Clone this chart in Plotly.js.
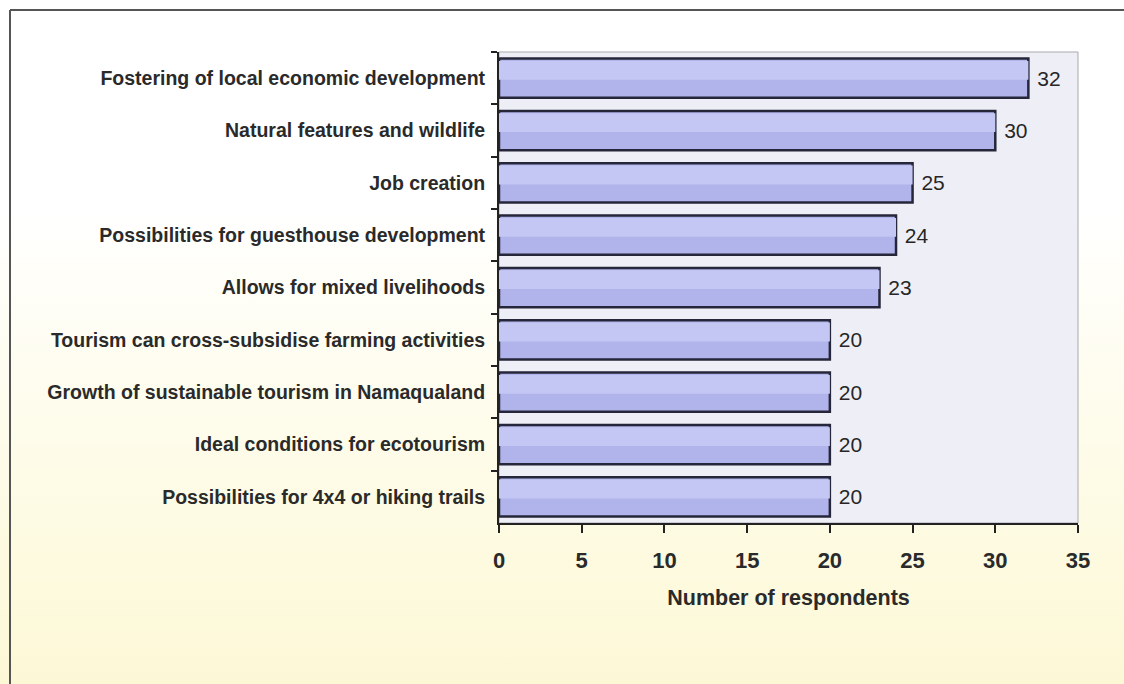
<!DOCTYPE html>
<html>
<head>
<meta charset="utf-8">
<script src="https://cdn.plot.ly/plotly-3.0.1.min.js"></script>
<style>
  html, body { margin: 0; padding: 0; }
  body {
    width: 1124px; height: 684px; overflow: hidden;
    background: linear-gradient(to bottom, #ffffff 0%, #ffffff 30%, #fefceb 62%, #fcf8d6 100%);
  }
  #chart { width: 1124px; height: 684px; }
</style>
</head>
<body>
<div id="chart"></div>
<script>
// Data (top to bottom as shown)
const categories = [
  "Fostering of local economic development",
  "Natural features and wildlife",
  "Job creation",
  "Possibilities for guesthouse development",
  "Allows for mixed livelihoods",
  "Tourism can cross-subsidise farming activities",
  "Growth of sustainable tourism in Namaqualand",
  "Ideal conditions for ecotourism",
  "Possibilities for 4x4 or hiking trails"
];
const respondents = [32, 30, 25, 24, 23, 20, 20, 20, 20];
const xTicks = [0, 5, 10, 15, 20, 25, 30, 35];
const xTitle = "Number of respondents";

const L = 499, R = 1078, T = 52, B = 523;
const W = 1124, H = 684;
const px = v => (v - L) / (R - L);
const py = v => (B - v) / (B - T);
const FONT = 'Liberation Sans, Arial, sans-serif';

const bars = {
  type: 'bar',
  orientation: 'h',
  y: categories,
  x: respondents,
  width: 0.75,
  texttemplate: '\u00a0%{x}',
  textposition: 'outside',
  cliponaxis: false,
  textfont: { family: FONT, size: 21, color: '#262626' },
  marker: { color: '#b0b4eb', line: { color: '#26263a', width: 2.5 } },
  hoverinfo: 'skip'
};

// lighter sheen on the upper part of each bar (same data)
const sheen = {
  type: 'bar',
  orientation: 'h',
  y: categories,
  x: respondents,
  width: 0.36,
  offset: -0.33,
  marker: { color: '#c4c7f3', line: { width: 0 } },
  textposition: 'none',
  hoverinfo: 'skip'
};

const layout = {
  width: W, height: H,
  margin: { l: L, r: W - R, t: T, b: H - B, pad: 0 },
  paper_bgcolor: 'rgba(0,0,0,0)',
  plot_bgcolor: '#eeeff6',
  showlegend: false,
  barmode: 'overlay',
  bargap: 0.25,
  font: { family: FONT, color: '#262626' },
  xaxis: {
    range: [0, 35],
    tickvals: xTicks,
    ticktext: xTicks.map(String),
    ticks: 'outside', ticklen: 8, tickwidth: 2, tickcolor: '#222',
    showline: true, linecolor: '#222', linewidth: 2,
    showgrid: false, zeroline: false,
    tickfont: { family: FONT, size: 22, weight: 'bold', color: '#2a2a2a' },
    ticklabelstandoff: 9,
    title: { text: xTitle, standoff: 18, font: { family: FONT, size: 21.5, weight: 'bold', color: '#2a2a2a' } },
    fixedrange: true
  },
  yaxis: {
    type: 'category',
    autorange: 'reversed',
    tickson: 'boundaries',
    ticks: 'outside', ticklen: 6, tickwidth: 2, tickcolor: '#222',
    showline: true, linecolor: '#222', linewidth: 2,
    showgrid: false, zeroline: false,
    tickfont: { family: FONT, size: 19.5, weight: 'bold', color: '#2a2a2a' },
    ticklabelstandoff: 8,
    fixedrange: true
  },
  shapes: [
    { type: 'rect', xref: 'paper', yref: 'paper', x0: 0, x1: 1, y0: 0, y1: 1,
      line: { color: '#a9a9b0', width: 1 }, layer: 'below' },
    { type: 'line', xref: 'paper', yref: 'paper', x0: px(10), x1: px(1124), y0: py(10), y1: py(10),
      line: { color: '#555', width: 2 } },
    { type: 'line', xref: 'paper', yref: 'paper', x0: px(10), x1: px(10), y0: py(10), y1: py(684),
      line: { color: '#555', width: 2 } }
  ]
};

Plotly.newPlot('chart', [bars, sheen], layout, { displayModeBar: false, staticPlot: true });
</script>
</body>
</html>
